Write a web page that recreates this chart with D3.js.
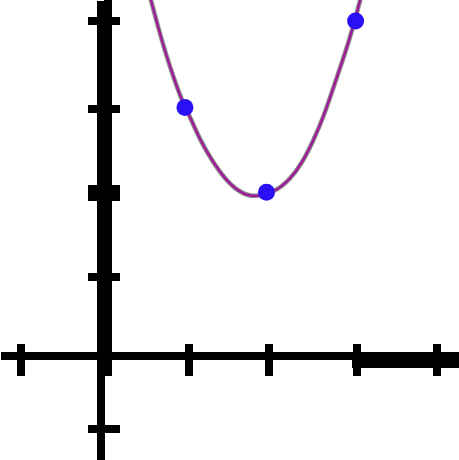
<!DOCTYPE html>
<html>
<head>
<meta charset="utf-8">
<script src="https://cdn.jsdelivr.net/npm/d3@7"></script>
<style>
  html, body { margin: 0; padding: 0; background: #fff; overflow: hidden; }
  svg { display: block; }
</style>
</head>
<body>
<svg id="chart"></svg>
<script>
// values (data units)
const xTicks = [-0.95, 1.05, 2, 3.05, 4];
const yTicks = [-0.86, 0.95, 1.95, 2.95, 4];
const pointX = [1.01, 1.98, 3.04];
const pointY = [2.96, 1.95, 3.99];
const curveX = [0.60, 0.69, 0.77, 0.87, 0.97, 1.07, 1.19, 1.33, 1.49, 1.67, 1.83,
                2.06, 2.26, 2.40, 2.54, 2.66, 2.78, 2.90, 3.00, 3.10];
const curveY = [4.26, 3.92, 3.64, 3.33, 3.05, 2.85, 2.57, 2.33, 2.10, 1.94, 1.89,
                1.94, 2.10, 2.29, 2.57, 2.85, 3.21, 3.56, 3.88, 4.26];

const width = 459;
const height = 460;

const svg = d3.select('#chart')
    .attr('width', width)
    .attr('height', height);

//scales: visible window of the plane
const xScale = d3.scaleLinear()
    .domain([-1.19, 4.27])
    .range([0, width]);

const yScale = d3.scaleLinear()
    .domain([-1.24, 4.24])
    .range([height, 0]);

const x0 = xScale(0);
const y0 = yScale(0);

//x-axis
const gx = svg.append('g')
    .attr('class', 'x-axis')
    .attr('transform', `translate(0,${y0})`)
    .call(d3.axisBottom(xScale).tickValues(xTicks).tickSizeOuter(0).tickFormat(''));

gx.select('.domain')
    .attr('stroke', '#000')
    .attr('stroke-width', 8);

gx.selectAll('.tick line')
    .attr('y1', -12)
    .attr('y2', 20)
    .attr('stroke', '#000')
    .attr('stroke-width', 8);

//thicker stretch of the x-axis on the right
gx.append('line')
    .attr('x1', xScale(xTicks[3]) - 4)
    .attr('x2', width)
    .attr('y1', 8)
    .attr('y2', 8)
    .attr('stroke', '#000')
    .attr('stroke-width', 8);

//y-axis
const gy = svg.append('g')
    .attr('class', 'y-axis')
    .attr('transform', `translate(${x0},0)`)
    .call(d3.axisLeft(yScale).tickValues(yTicks).tickSizeOuter(0).tickFormat(''));

gy.select('.domain')
    .attr('stroke', '#000')
    .attr('stroke-width', 8);

gy.selectAll('.tick line')
    .attr('x1', -12)
    .attr('x2', 20)
    .attr('stroke', '#000')
    .attr('stroke-width', (d, i) => i === 2 ? 16 : 8);

//upper part of the y-axis is drawn wider
gy.append('line')
    .attr('x1', 8)
    .attr('x2', 8)
    .attr('y1', 0)
    .attr('y2', y0 + 20)
    .attr('stroke', '#000')
    .attr('stroke-width', 8);

svg.selectAll('.x-axis, .y-axis').attr('shape-rendering', 'crispEdges');

//curve
const curveData = curveX.map((d, i) => ({ x: d, y: curveY[i] }));

const line = d3.line()
    .x(d => xScale(d.x))
    .y(d => yScale(d.y))
    .curve(d3.curveBasis);

svg.append('path')
    .datum(curveData)
    .attr('fill', 'none')
    .attr('stroke', '#555')
    .attr('stroke-opacity', 0.7)
    .attr('stroke-width', 4.5)
    .attr('d', line);

svg.append('path')
    .datum(curveData)
    .attr('fill', 'none')
    .attr('stroke', '#a3169c')
    .attr('stroke-width', 2.2)
    .attr('d', line);

//points
const pointData = pointX.map((d, i) => ({ x: d, y: pointY[i] }));

svg.selectAll('circle.pt')
    .data(pointData)
    .enter()
    .append('circle')
    .attr('class', 'pt')
    .attr('cx', d => xScale(d.x))
    .attr('cy', d => yScale(d.y))
    .attr('r', 8.5)
    .attr('fill', '#2a10f5');
</script>
</body>
</html>
